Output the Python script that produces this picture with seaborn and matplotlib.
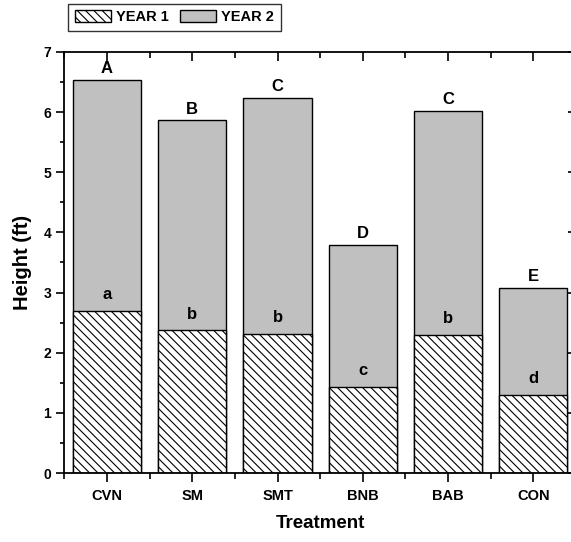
import matplotlib
matplotlib.use("Agg")
import matplotlib.pyplot as plt
import seaborn as sns
import pandas as pd
from matplotlib.patches import Patch
from matplotlib.ticker import MultipleLocator, FixedLocator

categories = ["CVN", "SM", "SMT", "BNB", "BAB", "CON"]
year1 = [2.70, 2.37, 2.31, 1.43, 2.30, 1.30]
year2 = [6.53, 5.86, 6.24, 3.79, 6.02, 3.08]
upper_letters = ["A", "B", "C", "D", "C", "E"]
lower_letters = ["a", "b", "b", "c", "b", "d"]

sns.set_theme(style="white")
plt.rcParams['font.family'] = ['Liberation Sans', 'DejaVu Sans']
plt.rcParams['font.weight'] = 'bold'
plt.rcParams['text.color'] = 'black'
plt.rcParams['axes.labelcolor'] = 'black'
plt.rcParams['xtick.color'] = 'black'
plt.rcParams['ytick.color'] = 'black'
plt.rcParams['hatch.linewidth'] = 0.8

df = pd.DataFrame({"Treatment": categories, "year1": year1, "year2": year2})

fig = plt.figure(figsize=(5.71, 5.42), dpi=100)
ax = fig.add_axes([0.1128, 0.1273, 0.896, 0.777])

sns.barplot(data=df, x="Treatment", y="year2", color="#c0c0c0", edgecolor="black",
            linewidth=1.0, width=0.8, saturation=1, ax=ax)
sns.barplot(data=df, x="Treatment", y="year1", color="white", edgecolor="black",
            linewidth=1.0, width=0.8, saturation=1, hatch='\\\\\\\\', ax=ax)

for i in range(len(categories)):
    ax.annotate(upper_letters[i], (i, year2[i]), xytext=(0, 5), textcoords="offset points",
                ha="center", va="baseline", fontsize=12, fontweight="bold", color="black")
    ax.annotate(lower_letters[i], (i, year1[i]), xytext=(0, 8.5), textcoords="offset points",
                ha="center", va="baseline", fontsize=12, fontweight="bold", color="black")

ax.set_xlim(-0.5, 5.5)
ax.set_ylim(0, 7)
ax.yaxis.set_major_locator(MultipleLocator(1))
ax.yaxis.set_minor_locator(MultipleLocator(0.5))
ax.xaxis.set_minor_locator(FixedLocator([-0.5, 0.5, 1.5, 2.5, 3.5, 4.5, 5.5]))

for s in ax.spines.values():
    s.set_linewidth(1.3)
    s.set_color("black")

ax.tick_params(axis="both", which="both", colors="black", width=1.2)
ax.tick_params(axis="y", which="major", direction="out", length=5.5, labelsize=10, pad=4,
               left=True, right=True)
ax.tick_params(axis="y", which="minor", direction="out", length=3, left=True, right=True)
ax.tick_params(axis="x", which="major", direction="out", length=6.5, labelsize=10.5, pad=5,
               bottom=True, top=True)
ax.tick_params(axis="x", which="minor", direction="out", length=4, bottom=True, top=True)
for t in ax.xaxis.get_major_ticks() + ax.xaxis.get_minor_ticks():
    t.tick2line.set_marker(3)
for t in ax.yaxis.get_major_ticks() + ax.yaxis.get_minor_ticks():
    t.tick2line.set_marker(0)

ax.set_xticks(range(len(categories)))
ax.set_xticklabels(categories, fontweight="bold", fontsize=10.5, color="black")
ax.set_yticks(range(8))
ax.set_yticklabels([str(v) for v in range(8)], fontweight="bold", fontsize=10, color="black")

ax.set_xlabel("Treatment", fontsize=13.5, fontweight="bold", labelpad=9, color="black")
ax.set_ylabel("Height (ft)", fontsize=14.5, fontweight="bold", labelpad=8, color="black")

handles = [Patch(facecolor="white", edgecolor="black", hatch='\\\\\\\\', linewidth=1.0),
           Patch(facecolor="#c0c0c0", edgecolor="black", linewidth=1.0)]
leg = fig.legend(handles, ["YEAR 1", "YEAR 2"], ncol=2, loc="upper left",
                 bbox_to_anchor=(0.119, 0.993), bbox_transform=fig.transFigure,
                 fancybox=False, frameon=True, edgecolor="black",
                 prop={"size": 10.5, "weight": "bold"}, handlelength=2.5,
                 handleheight=0.9, handletextpad=0.35, columnspacing=0.75,
                 borderpad=0.45, borderaxespad=0)
leg.get_frame().set_linewidth(1.0)
for txt in leg.get_texts():
    txt.set_color("black")

fig.savefig("out.png", dpi=100)
